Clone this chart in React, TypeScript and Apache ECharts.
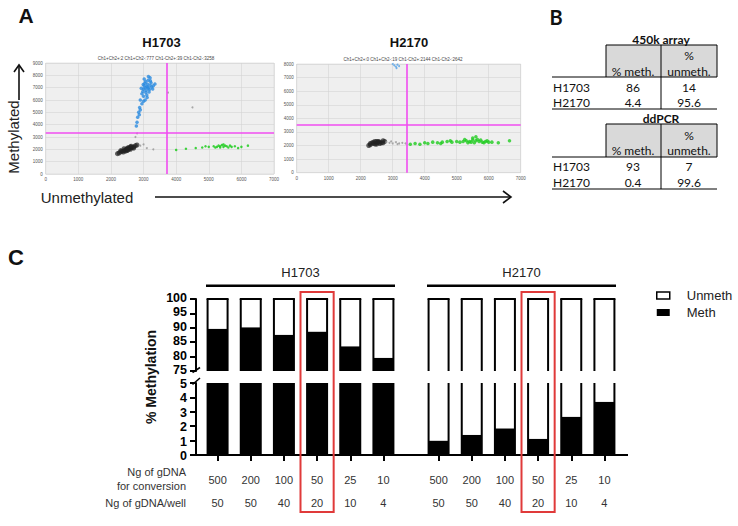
import React, { useEffect, useRef } from "react";
import * as echarts from "echarts";

// ---------- Panel C data ----------
const conversionNg = ["500", "200", "100", "50", "25", "10"];
const wellNg = ["50", "50", "40", "20", "10", "4"];
const methH1703 = [89.7, 90.2, 87.6, 88.7, 83.6, 79.6];
const methH2170 = [1.0, 1.4, 1.85, 1.13, 2.66, 3.7];
const upperTicks = [75, 100];
const lowerTicks = [0, 5];

// ---------- Panel B data ----------
const cellLines = ["H1703", "H2170"];
const arrayMeth = ["86", "4.4"];
const arrayUnmeth = ["14", "95.6"];
const ddpcrMeth = ["93", "0.4"];
const ddpcrUnmeth = ["7", "99.6"];

// ---------- Panel A data (droplet amplitudes: [Ch2, Ch1]) ----------
const h1703Blue = [
  [3000, 6900], [3050, 7000], [3100, 7100], [3150, 6950], [3080, 6800], [3200, 7200], [3120, 7300],
  [3020, 7150], [2980, 6700], [3170, 6650], [3250, 7050], [3060, 7500], [3140, 7600], [3230, 7400],
  [2950, 6500], [3000, 6300], [3100, 6400], [3180, 6850], [3300, 7150], [3020, 7700], [3200, 7800],
  [3280, 6900], [2930, 6950], [3110, 6200], [2900, 6000], [2950, 5700], [2880, 5400], [2850, 5000],
  [2820, 4600], [2800, 4200], [2780, 3900], [2900, 5200], [3000, 5900], [3050, 6000], [2870, 4800],
  [3150, 7900], [3350, 7300], [2990, 7250], [3070, 6600], [3130, 7050], [3210, 7550], [3040, 7350],
];
const h1703Neg = [
  [2300, 1800], [2400, 1900], [2500, 2000], [2600, 2100], [2700, 2200], [2450, 1950], [2550, 2050],
  [2350, 1850], [2650, 2150], [2500, 1900], [2400, 2050], [2600, 2000], [2250, 1700], [2750, 2300],
  [2550, 2150], [2450, 1850], [2300, 1900], [2700, 2100], [2500, 2100], [2600, 2200], [2200, 1650],
  [2800, 2350], [2380, 1780], [2620, 2250], [2480, 2020], [2520, 1950],
];
const h1703Stray = [[2900, 2300], [3100, 2100], [3300, 2000], [2800, 3300], [2750, 3000], [4500, 5400], [3750, 6600], [3000, 2400]];
const h1703Green = [
  [4000, 1950], [4300, 2050], [4600, 2100], [4800, 2150], [5000, 2200], [5150, 2250], [5250, 2200],
  [5300, 2300], [5350, 2250], [5400, 2350], [5450, 2200], [5500, 2300], [5550, 2250], [5600, 2150],
  [5700, 2200], [5800, 2250], [5900, 2100], [6000, 2200], [6200, 2300], [5200, 2150], [5450, 2400],
  [5350, 2150], [4900, 2250], [5650, 2300],
];
const h2170Blue = [[3050, 7900], [3100, 7800], [3150, 7950], [3000, 8000], [3120, 7700], [3200, 7850]];
const h2170Neg = [
  [2300, 2050], [2400, 2150], [2500, 2200], [2600, 2250], [2700, 2350], [2450, 2100], [2550, 2300],
  [2350, 2200], [2650, 2200], [2500, 2100], [2400, 2250], [2600, 2150], [2250, 2000], [2750, 2300],
  [2550, 2250], [2450, 2300], [2300, 2150], [2700, 2200], [2500, 2300],
];
const h2170Stray = [[2800, 2250], [2900, 2200], [3000, 2150], [3100, 2250], [3200, 2150], [3300, 2200], [3400, 2150], [2950, 2300], [3150, 2100]];
const h2170Green = [
  [3550, 2100], [3700, 2150], [3850, 2100], [4000, 2200], [4100, 2150], [4250, 2250], [4400, 2200],
  [4550, 2250], [4700, 2300], [4850, 2250], [5000, 2300], [5100, 2250], [5200, 2300], [5300, 2350],
  [5400, 2300], [5500, 2400], [5600, 2350], [5700, 2300], [5800, 2250], [5900, 2300], [6000, 2250],
  [5450, 2250], [5550, 2200], [5650, 2450], [5350, 2200], [5750, 2400], [5850, 2200], [6100, 2250],
  [6300, 2200], [5500, 2550], [5600, 2650], [6650, 2350], [5250, 2450], [5950, 2350], [4500, 2150], [4800, 2350],
];
const thresholds1703 = { ch2: 3700, ch1: 3350 };
const thresholds2170 = { ch2: 3450, ch1: 3500 };

// ---------- layout ----------
const C_LEFT_L = 201;
const C_LEFT_R = 422;
const C_W = 199;
const UP_TOP = 299;
const LO_TOP = 383;
const C_H = 72;

const FONT = "Arial, 'Liberation Sans', sans-serif";
const TFONT = "Lato, 'Open Sans', sans-serif";

function txt(text: string, x: number, y: number, o: any = {}) {
  return {
    type: "text",
    x,
    y,
    rotation: o.rotation || 0,
    z: 100,
    style: {
      text,
      fontSize: o.size || 12,
      fontWeight: o.weight || "normal",
      fontFamily: o.family || FONT,
      fill: o.color || "#111",
      align: o.align || "center",
      verticalAlign: "middle",
      textAlign: o.align || "center",
      textVerticalAlign: "middle",
    },
  };
}
function ln(x1: number, y1: number, x2: number, y2: number, w = 1, c = "#000") {
  return { type: "line", z: 100, shape: { x1, y1, x2, y2 }, style: { stroke: c, lineWidth: w } };
}

function outlineRender(params: any, api: any) {
  const idx = api.value(0);
  const cs = params.coordSys;
  const p = api.coord([idx, 100]);
  const cx = p[0];
  const yTop = p[1];
  const yBase = api.coord([idx, 0])[1];
  const half = 10;
  const top = Math.max(yTop, cs.y);
  const bottom = Math.min(yBase, cs.y + cs.height);
  const st = { stroke: "#000", lineWidth: 2 };
  const children: any[] = [
    { type: "line", shape: { x1: cx - half, y1: bottom, x2: cx - half, y2: top }, style: st },
    { type: "line", shape: { x1: cx + half, y1: bottom, x2: cx + half, y2: top }, style: st },
  ];
  if (yTop >= cs.y - 0.5) {
    children.push({ type: "line", shape: { x1: cx - half - 1, y1: yTop, x2: cx + half + 1, y2: yTop }, style: st });
  }
  return { type: "group", children };
}

export default function App() {
  const ref = useRef<HTMLDivElement>(null);
  useEffect(() => {
    if (!ref.current) return;
    const chart = echarts.init(ref.current, undefined, { renderer: "svg" });

    const scatterAxisLabel = { fontSize: 4.5, color: "#555", margin: 3, formatter: (v: number) => String(v) };
    const scatterGrid = (left: number, top: number, width: number, height: number) => ({
      left, top, width, height, show: true, backgroundColor: "#efefef", borderColor: "#cfcfcf", borderWidth: 0.5,
      containLabel: false, outerBoundsMode: "none",
    });
    const cGrid = (left: number, top: number) => ({ left, top, width: C_W, height: C_H, containLabel: false, outerBoundsMode: "none" });

    const valX = (gi: number) => ({
      type: "value", gridIndex: gi, min: 0, max: 7000, interval: 1000,
      axisLine: { show: false }, axisTick: { show: false },
      splitLine: { show: true, lineStyle: { color: "#d4d4d4", width: 0.6 } },
      axisLabel: scatterAxisLabel,
    });
    const valY = (gi: number, max: number) => ({
      type: "value", gridIndex: gi, min: 0, max, interval: 1000,
      axisLine: { show: false }, axisTick: { show: false },
      splitLine: { show: true, lineStyle: { color: "#d4d4d4", width: 0.6 } },
      axisLabel: scatterAxisLabel,
    });
    const catX = (gi: number, lower: boolean) => ({
      type: "category", gridIndex: gi, data: conversionNg,
      axisLine: { show: false },
      axisTick: lower ? { show: true, alignWithLabel: true, interval: 0, length: 6, lineStyle: { color: "#000", width: 2 } } : { show: false },
      axisLabel: lower
        ? {
            show: true, margin: 13, interval: 0,
            formatter: (v: string, i: number) => `{a|${v}}\n{a|${wellNg[i]}}`,
            rich: { a: { fontSize: 11, lineHeight: 23, color: "#333", fontFamily: FONT } },
          }
        : { show: false },
      splitLine: { show: false },
    });
    const catY = (gi: number, ticks: number[], interval: number, showAxis: boolean, upper: boolean) => ({
      type: "value", gridIndex: gi, min: ticks[0], max: ticks[1], interval, offset: 5, show: showAxis,
      axisLine: { show: true, lineStyle: { color: "#000", width: 2 } },
      axisTick: { show: true, length: 6, lineStyle: { color: "#000", width: 2 } },
      axisLabel: {
        margin: 9,
        formatter: (v: number) => `{v|${v}}`,
        rich: {
          v: {
            fontSize: 12.5, fontWeight: "bold", color: "#000", fontFamily: FONT,
            padding: upper ? [0, 0, 2, 0] : [2, 0, 0, 0],
          },
        },
      },
      splitLine: { show: false },
    });

    const scatter = (name: string, data: number[][], gi: number, color: string, size = 3, opacity = 0.85, extra: any = {}) => ({
      type: "scatter", name, xAxisIndex: gi, yAxisIndex: gi, data, symbolSize: size,
      itemStyle: { color, opacity }, silent: true, ...extra,
    });
    const magentaLines = (t: { ch2: number; ch1: number }) => ({
      markLine: {
        silent: true, symbol: "none", label: { show: false },
        lineStyle: { color: "#f04cf0", width: 1.6, type: "solid" },
        data: [{ xAxis: t.ch2 }, { yAxis: t.ch1 }],
      },
    });

    const unmeth = (arr: number[]) => arr.map((v) => +(100 - v).toFixed(2));
    const barSeries = (gi: number, meth: number[], stack: string) => [
      {
        type: "bar", name: "Meth", xAxisIndex: gi, yAxisIndex: gi, stack, data: meth, barWidth: 20,
        itemStyle: { color: "#000" }, silent: true,
      },
      {
        type: "bar", name: "Unmeth", xAxisIndex: gi, yAxisIndex: gi, stack, data: unmeth(meth), barWidth: 20,
        itemStyle: { color: "#fff" }, silent: true,
      },
    ];
    const outline = (gi: number) => ({
      type: "custom", name: "outline", xAxisIndex: gi, yAxisIndex: gi,
      data: conversionNg.map((_, i) => [i, 100]), encode: { x: 0, y: 1 },
      renderItem: outlineRender, silent: true, z: 5,
    });

    const slot = C_W / 6;
    const graphics: any[] = [
      // panel letters
      txt("A", 26, 15, { size: 21, weight: "bold" }),
      txt("B", 556, 17, { size: 20, weight: "bold", family: TFONT }),
      txt("C", 16, 257, { size: 22, weight: "bold" }),
      // panel A
      txt("H1703", 161.5, 42, { size: 13, weight: "bold" }),
      txt("H2170", 409, 42, { size: 13, weight: "bold" }),
      txt("Ch1+Ch2+:2 Ch1+Ch2-:777 Ch1-Ch2+:39 Ch1-Ch2-:3258", 156, 58, { size: 4.5, color: "#444" }),
      txt("Ch1+Ch2+:0 Ch1+Ch2-:19 Ch1-Ch2+:2144 Ch1-Ch2-:2642", 403, 59, { size: 4.5, color: "#444" }),
      txt("Methylated", 13, 137, { size: 15, rotation: Math.PI / 2, color: "#222" }),
      ln(19, 100, 19, 66, 1.6, "#111"),
      { type: "polyline", z: 100, shape: { points: [[14, 72], [19, 65], [24, 72]] }, style: { stroke: "#111", lineWidth: 1.6, fill: "none" } },
      txt("Unmethylated", 87, 197, { size: 15, color: "#222" }),
      ln(155, 197, 511, 197, 1.6, "#111"),
      { type: "polyline", z: 100, shape: { points: [[503, 191], [511, 197], [503, 203]] }, style: { stroke: "#111", lineWidth: 1.6, fill: "none" } },
      // panel B tables
      txt("450k array", 661, 39, { size: 12, weight: "bold", family: TFONT }),
      { type: "rect", z: 90, shape: { x: 606, y: 45, width: 111, height: 32 }, style: { fill: "#d9d9d9" } },
      ln(606, 45, 717, 45), ln(606, 45, 606, 77), ln(717, 45, 717, 77), ln(661, 45, 661, 109),
      ln(552, 77, 717, 77), ln(552, 109, 717, 109),
      txt("%", 689, 55, { size: 12, family: TFONT }),
      txt("% meth.", 633, 71, { size: 12, family: TFONT }),
      txt("unmeth.", 689, 71, { size: 12, family: TFONT }),
      txt("ddPCR", 661, 118, { size: 12, weight: "bold", family: TFONT }),
      { type: "rect", z: 90, shape: { x: 606, y: 124, width: 111, height: 33 }, style: { fill: "#d9d9d9" } },
      ln(606, 124, 717, 124), ln(606, 124, 606, 157), ln(717, 124, 717, 157), ln(661, 124, 661, 189),
      ln(552, 157, 717, 157), ln(552, 189, 717, 189),
      txt("%", 689, 135, { size: 12, family: TFONT }),
      txt("% meth.", 633, 150, { size: 12, family: TFONT }),
      txt("unmeth.", 689, 150, { size: 12, family: TFONT }),
      // panel C
      txt("H1703", C_LEFT_L + C_W / 2, 272, { size: 13, color: "#222" }),
      txt("H2170", C_LEFT_R + C_W / 2, 272, { size: 13, color: "#222" }),
      ln(206, 285.7, 395, 285.7, 2.6), ln(427, 285.7, 616, 285.7, 2.6),
      ln(196, LO_TOP + C_H, 628, LO_TOP + C_H, 2),
      ln(192.5, 372.5, 200, 367.5, 1.6), ln(192.5, 384.5, 200, 378, 1.6),
      txt("% Methylation", 151, 377, { size: 14, weight: "bold", rotation: Math.PI / 2 }),
      txt("Ng of gDNA", 186, 472, { size: 11, align: "right", color: "#333" }),
      txt("for conversion", 186, 486, { size: 11, align: "right", color: "#333" }),
      txt("Ng of gDNA/well", 186, 503, { size: 11, align: "right", color: "#333" }),
      { type: "rect", z: 110, shape: { x: C_LEFT_L + 3 * slot, y: 292, width: slot, height: 220 }, style: { fill: "none", stroke: "#e03a3a", lineWidth: 2 } },
      { type: "rect", z: 110, shape: { x: C_LEFT_R + 3 * slot, y: 292, width: slot, height: 220 }, style: { fill: "none", stroke: "#e03a3a", lineWidth: 2 } },
    ];
    cellLines.forEach((c, i) => {
      const y1 = 87 + i * 15.5;
      const y2 = 166 + i * 16;
      graphics.push(txt(c, 553, y1, { size: 12, align: "left", family: TFONT }));
      graphics.push(txt(arrayMeth[i], 633, y1, { size: 12, family: TFONT }));
      graphics.push(txt(arrayUnmeth[i], 689, y1, { size: 12, family: TFONT }));
      graphics.push(txt(c, 553, y2, { size: 12, align: "left", family: TFONT }));
      graphics.push(txt(ddpcrMeth[i], 633, y2, { size: 12, family: TFONT }));
      graphics.push(txt(ddpcrUnmeth[i], 689, y2, { size: 12, family: TFONT }));
    });

    chart.setOption({
      animation: false,
      backgroundColor: "#fff",
      textStyle: { fontFamily: FONT },
      grid: [
        scatterGrid(45.7, 63, 228.3, 111),
        scatterGrid(296.7, 64, 224, 108.7),
        cGrid(C_LEFT_L, UP_TOP),
        cGrid(C_LEFT_R, UP_TOP),
        cGrid(C_LEFT_L, LO_TOP),
        cGrid(C_LEFT_R, LO_TOP),
      ],
      xAxis: [valX(0), valX(1), catX(2, false), catX(3, false), catX(4, true), catX(5, true)],
      yAxis: [
        valY(0, 9000), valY(1, 8000),
        catY(2, upperTicks, 5, true, true), catY(3, upperTicks, 5, false, true),
        catY(4, lowerTicks, 1, true, false), catY(5, lowerTicks, 1, false, false),
      ],
      legend: {
        orient: "vertical", left: 651, top: 284, itemWidth: 13, itemHeight: 7, itemGap: 4,
        textStyle: { fontSize: 13, color: "#222", fontFamily: FONT, padding: [0, 0, 0, 12] },
        data: [
          { name: "Unmeth", icon: "rect", itemStyle: { color: "#fff", borderColor: "#000", borderWidth: 1.5 } },
          { name: "Meth", icon: "rect", itemStyle: { color: "#000" } },
        ],
        selectedMode: false,
      },
      series: [
        scatter("neg1703", h1703Neg, 0, "#222", 5, 0.7, magentaLines(thresholds1703)),
        scatter("stray1703", h1703Stray, 0, "#9a9a9a", 2),
        scatter("blue1703", h1703Blue, 0, "#2a8be0", 3.5, 0.8),
        scatter("green1703", h1703Green, 0, "#1fcc1f", 2.5),
        scatter("neg2170", h2170Neg, 1, "#222", 5, 0.7, magentaLines(thresholds2170)),
        scatter("stray2170", h2170Stray, 1, "#9a9a9a", 2),
        scatter("blue2170", h2170Blue, 1, "#5aa5e8", 2),
        scatter("green2170", h2170Green, 1, "#1fcc1f", 3.5, 0.8),
        ...barSeries(2, methH1703, "ul"),
        ...barSeries(3, methH2170, "ur"),
        ...barSeries(4, methH1703, "ll"),
        ...barSeries(5, methH2170, "lr"),
        outline(2), outline(3), outline(4), outline(5),
      ],
      graphic: graphics,
    });
    return () => chart.dispose();
  }, []);
  return <div ref={ref} style={{ position: "fixed", left: 0, top: 0, width: 738, height: 526, background: "#fff" }} />;
}
